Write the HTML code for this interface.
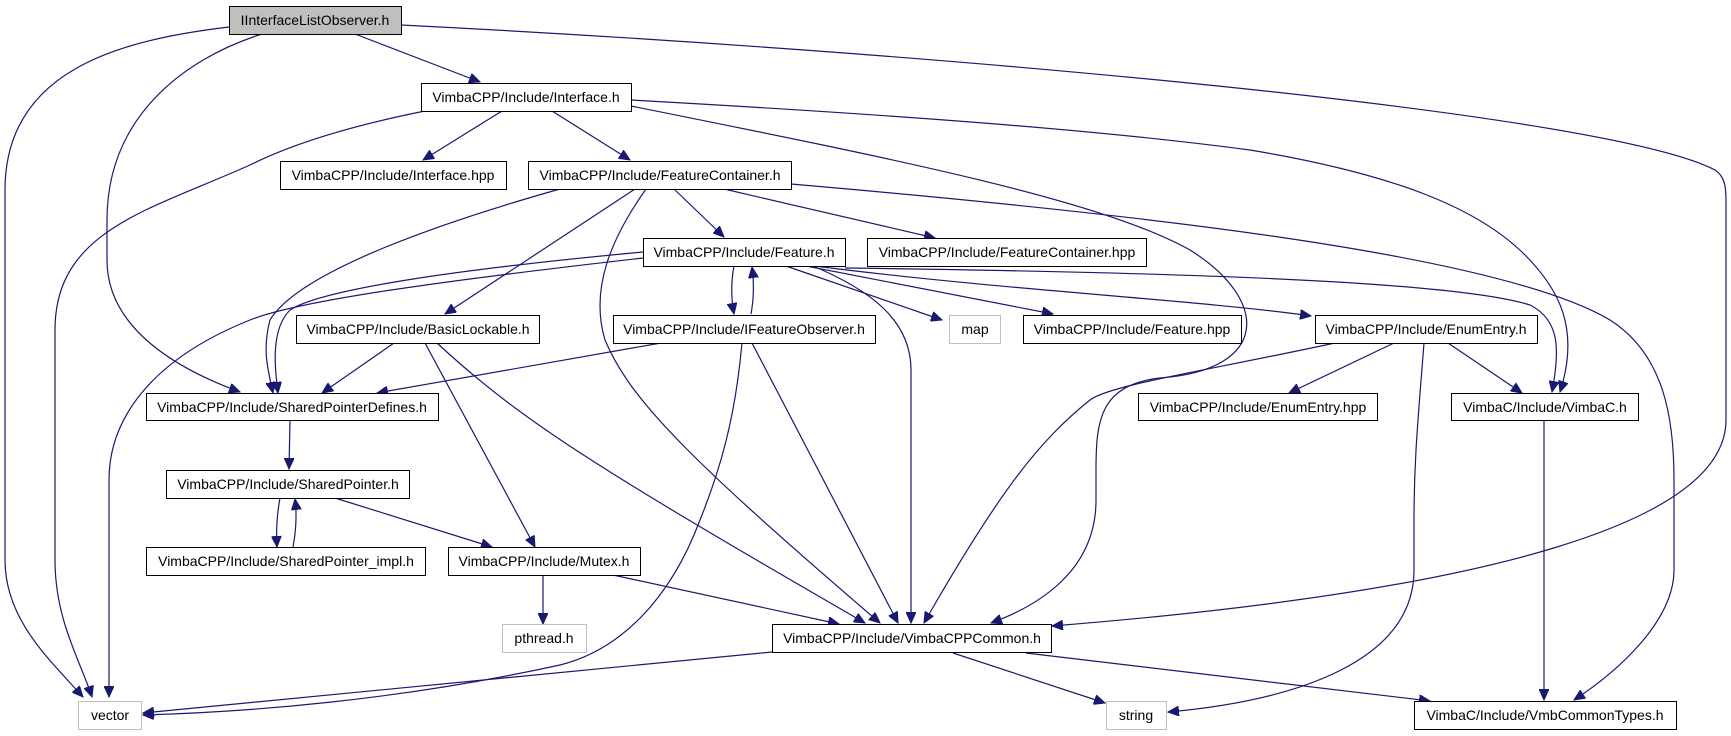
<!DOCTYPE html>
<html><head><meta charset="utf-8"><style>
html,body{margin:0;padding:0;background:#fff;}
svg{display:block;}
text{font-family:"Liberation Sans",sans-serif;font-size:14px;fill:#000;}
</style></head><body>
<svg width="1731" height="736" viewBox="0 0 1731 736" xmlns="http://www.w3.org/2000/svg">
<defs>
<marker id="a" markerUnits="userSpaceOnUse" markerWidth="12" markerHeight="10" refX="11" refY="5" orient="auto">
<path d="M0,0 L11,5 L0,10 Z" fill="#191970" stroke="#191970"/>
</marker>
</defs>
<g fill="none" stroke="#191970" stroke-width="1.2" marker-end="url(#a)">
<path d="M229,27 C120,40 5,70 5,190 L5,560 C5,620 50,660 83,697"/>
<path d="M262,34 C180,60 107,120 107,220 L107,260 C107,330 180,370 240,392"/>
<path d="M355,34 L480,82"/>
<path d="M401,25 C900,50 1600,110 1715,170 C1724,176 1726,185 1726,200 L1726,420 C1726,520 1500,590 1052,626"/>
<path d="M502,111 L423,160"/>
<path d="M552,111 L630,160"/>
<path d="M425,111 C330,130 280,150 250,165 C150,210 55,230 55,330 L55,560 C55,620 80,660 92,697"/>
<path d="M631,100 C900,115 1100,130 1250,150 C1400,175 1480,210 1525,255 C1560,290 1580,330 1560,392"/>
<path d="M631,106 C900,160 1100,200 1190,250 C1270,300 1270,370 1160,378 C1100,385 1096,420 1096,470 L1096,500 C1096,570 1040,605 991,623"/>
<path d="M791,184 C1150,215 1500,255 1610,320 C1665,355 1674,420 1674,480 L1674,570 C1674,620 1620,670 1574,700"/>
<path d="M646,189 C610,240 590,290 605,340 C630,400 690,460 880,623"/>
<path d="M560,189 C450,220 300,270 270,320 C262,350 268,370 273,393"/>
<path d="M635,189 L445,314"/>
<path d="M674,189 L724,237"/>
<path d="M724,189 L935,238"/>
<path d="M734,266 C731,282 731,298 734,314"/>
<path d="M751,314 C754,298 754,282 752,267"/>
<path d="M786,266 L942,320"/>
<path d="M806,266 L1053,314"/>
<path d="M815,266 C1000,290 1200,300 1311,316"/>
<path d="M845,268 C1150,272 1450,280 1530,305 C1560,320 1560,350 1552,392"/>
<path d="M813,266 C870,290 911,320 911,370 L911,623"/>
<path d="M643,258 C450,280 300,300 250,320 C150,360 109,420 109,480 L109,697"/>
<path d="M643,252 C450,270 320,290 290,310 C270,330 275,370 278,393"/>
<path d="M394,343 L322,393"/>
<path d="M425,343 L535,547"/>
<path d="M437,343 C520,420 600,470 865,623"/>
<path d="M661,343 L377,393"/>
<path d="M752,343 L898,623"/>
<path d="M742,343 C735,420 720,470 700,520 C670,600 620,650 560,665 C400,700 250,712 143,715"/>
<path d="M1394,343 L1289,393"/>
<path d="M1448,343 L1522,393"/>
<path d="M1335,343 C1200,372 1110,385 1090,400 C1040,440 1000,490 924,623"/>
<path d="M1424,343 C1418,420 1414,460 1414,520 L1414,570 C1414,660 1300,700 1168,712"/>
<path d="M290,420 L289,469"/>
<path d="M280,498 C277,514 276,530 277,547"/>
<path d="M293,547 C296,531 297,515 295,499"/>
<path d="M335,498 L492,547"/>
<path d="M543,575 L543,624"/>
<path d="M613,575 L839,624"/>
<path d="M1544,420 L1544,700"/>
<path d="M772,652 C600,668 400,690 143,713"/>
<path d="M953,653 L1105,703"/>
<path d="M1026,653 L1430,701"/>
</g>
<g stroke-width="1">
<rect x="229.5" y="6.5" width="172" height="28" fill="#bfbfbf" stroke="#000"/>
<text x="315" y="25" text-anchor="middle">IInterfaceListObserver.h</text>
<rect x="421.5" y="83.5" width="210" height="28" fill="#fff" stroke="#000"/>
<text x="526" y="102" text-anchor="middle">VimbaCPP/Include/Interface.h</text>
<rect x="280.5" y="161.5" width="226" height="28" fill="#fff" stroke="#000"/>
<text x="393" y="180" text-anchor="middle">VimbaCPP/Include/Interface.hpp</text>
<rect x="528.5" y="161.5" width="263" height="28" fill="#fff" stroke="#000"/>
<text x="660" y="180" text-anchor="middle">VimbaCPP/Include/FeatureContainer.h</text>
<rect x="643.5" y="238.5" width="202" height="28" fill="#fff" stroke="#000"/>
<text x="744" y="257" text-anchor="middle">VimbaCPP/Include/Feature.h</text>
<rect x="867.5" y="238.5" width="279" height="28" fill="#fff" stroke="#000"/>
<text x="1007" y="257" text-anchor="middle">VimbaCPP/Include/FeatureContainer.hpp</text>
<rect x="296.5" y="315.5" width="243" height="28" fill="#fff" stroke="#000"/>
<text x="418" y="334" text-anchor="middle">VimbaCPP/Include/BasicLockable.h</text>
<rect x="613.5" y="315.5" width="262" height="28" fill="#fff" stroke="#000"/>
<text x="744" y="334" text-anchor="middle">VimbaCPP/Include/IFeatureObserver.h</text>
<rect x="949.5" y="315.5" width="51" height="28" fill="#fff" stroke="#bfbfbf"/>
<text x="975" y="334" text-anchor="middle">map</text>
<rect x="1023.5" y="315.5" width="218" height="28" fill="#fff" stroke="#000"/>
<text x="1132" y="334" text-anchor="middle">VimbaCPP/Include/Feature.hpp</text>
<rect x="1315.5" y="315.5" width="222" height="28" fill="#fff" stroke="#000"/>
<text x="1426" y="334" text-anchor="middle">VimbaCPP/Include/EnumEntry.h</text>
<rect x="146.5" y="393.5" width="292" height="27" fill="#fff" stroke="#000"/>
<text x="292" y="412" text-anchor="middle">VimbaCPP/Include/SharedPointerDefines.h</text>
<rect x="1138.5" y="393.5" width="239" height="27" fill="#fff" stroke="#000"/>
<text x="1258" y="412" text-anchor="middle">VimbaCPP/Include/EnumEntry.hpp</text>
<rect x="1451.5" y="393.5" width="187" height="27" fill="#fff" stroke="#000"/>
<text x="1545" y="412" text-anchor="middle">VimbaC/Include/VimbaC.h</text>
<rect x="166.5" y="470.5" width="243" height="28" fill="#fff" stroke="#000"/>
<text x="288" y="489" text-anchor="middle">VimbaCPP/Include/SharedPointer.h</text>
<rect x="146.5" y="547.5" width="279" height="28" fill="#fff" stroke="#000"/>
<text x="286" y="566" text-anchor="middle">VimbaCPP/Include/SharedPointer_impl.h</text>
<rect x="448.5" y="547.5" width="192" height="28" fill="#fff" stroke="#000"/>
<text x="544" y="566" text-anchor="middle">VimbaCPP/Include/Mutex.h</text>
<rect x="502.5" y="624.5" width="84" height="28" fill="#fff" stroke="#bfbfbf"/>
<text x="544" y="643" text-anchor="middle">pthread.h</text>
<rect x="772.5" y="624.5" width="279" height="28" fill="#fff" stroke="#000"/>
<text x="912" y="643" text-anchor="middle">VimbaCPP/Include/VimbaCPPCommon.h</text>
<rect x="78.5" y="701.5" width="63" height="28" fill="#fff" stroke="#bfbfbf"/>
<text x="110" y="720" text-anchor="middle">vector</text>
<rect x="1106.5" y="701.5" width="60" height="28" fill="#fff" stroke="#bfbfbf"/>
<text x="1136" y="720" text-anchor="middle">string</text>
<rect x="1414.5" y="701.5" width="262" height="28" fill="#fff" stroke="#000"/>
<text x="1545" y="720" text-anchor="middle">VimbaC/Include/VmbCommonTypes.h</text>
</g>
</svg>
</body></html>
